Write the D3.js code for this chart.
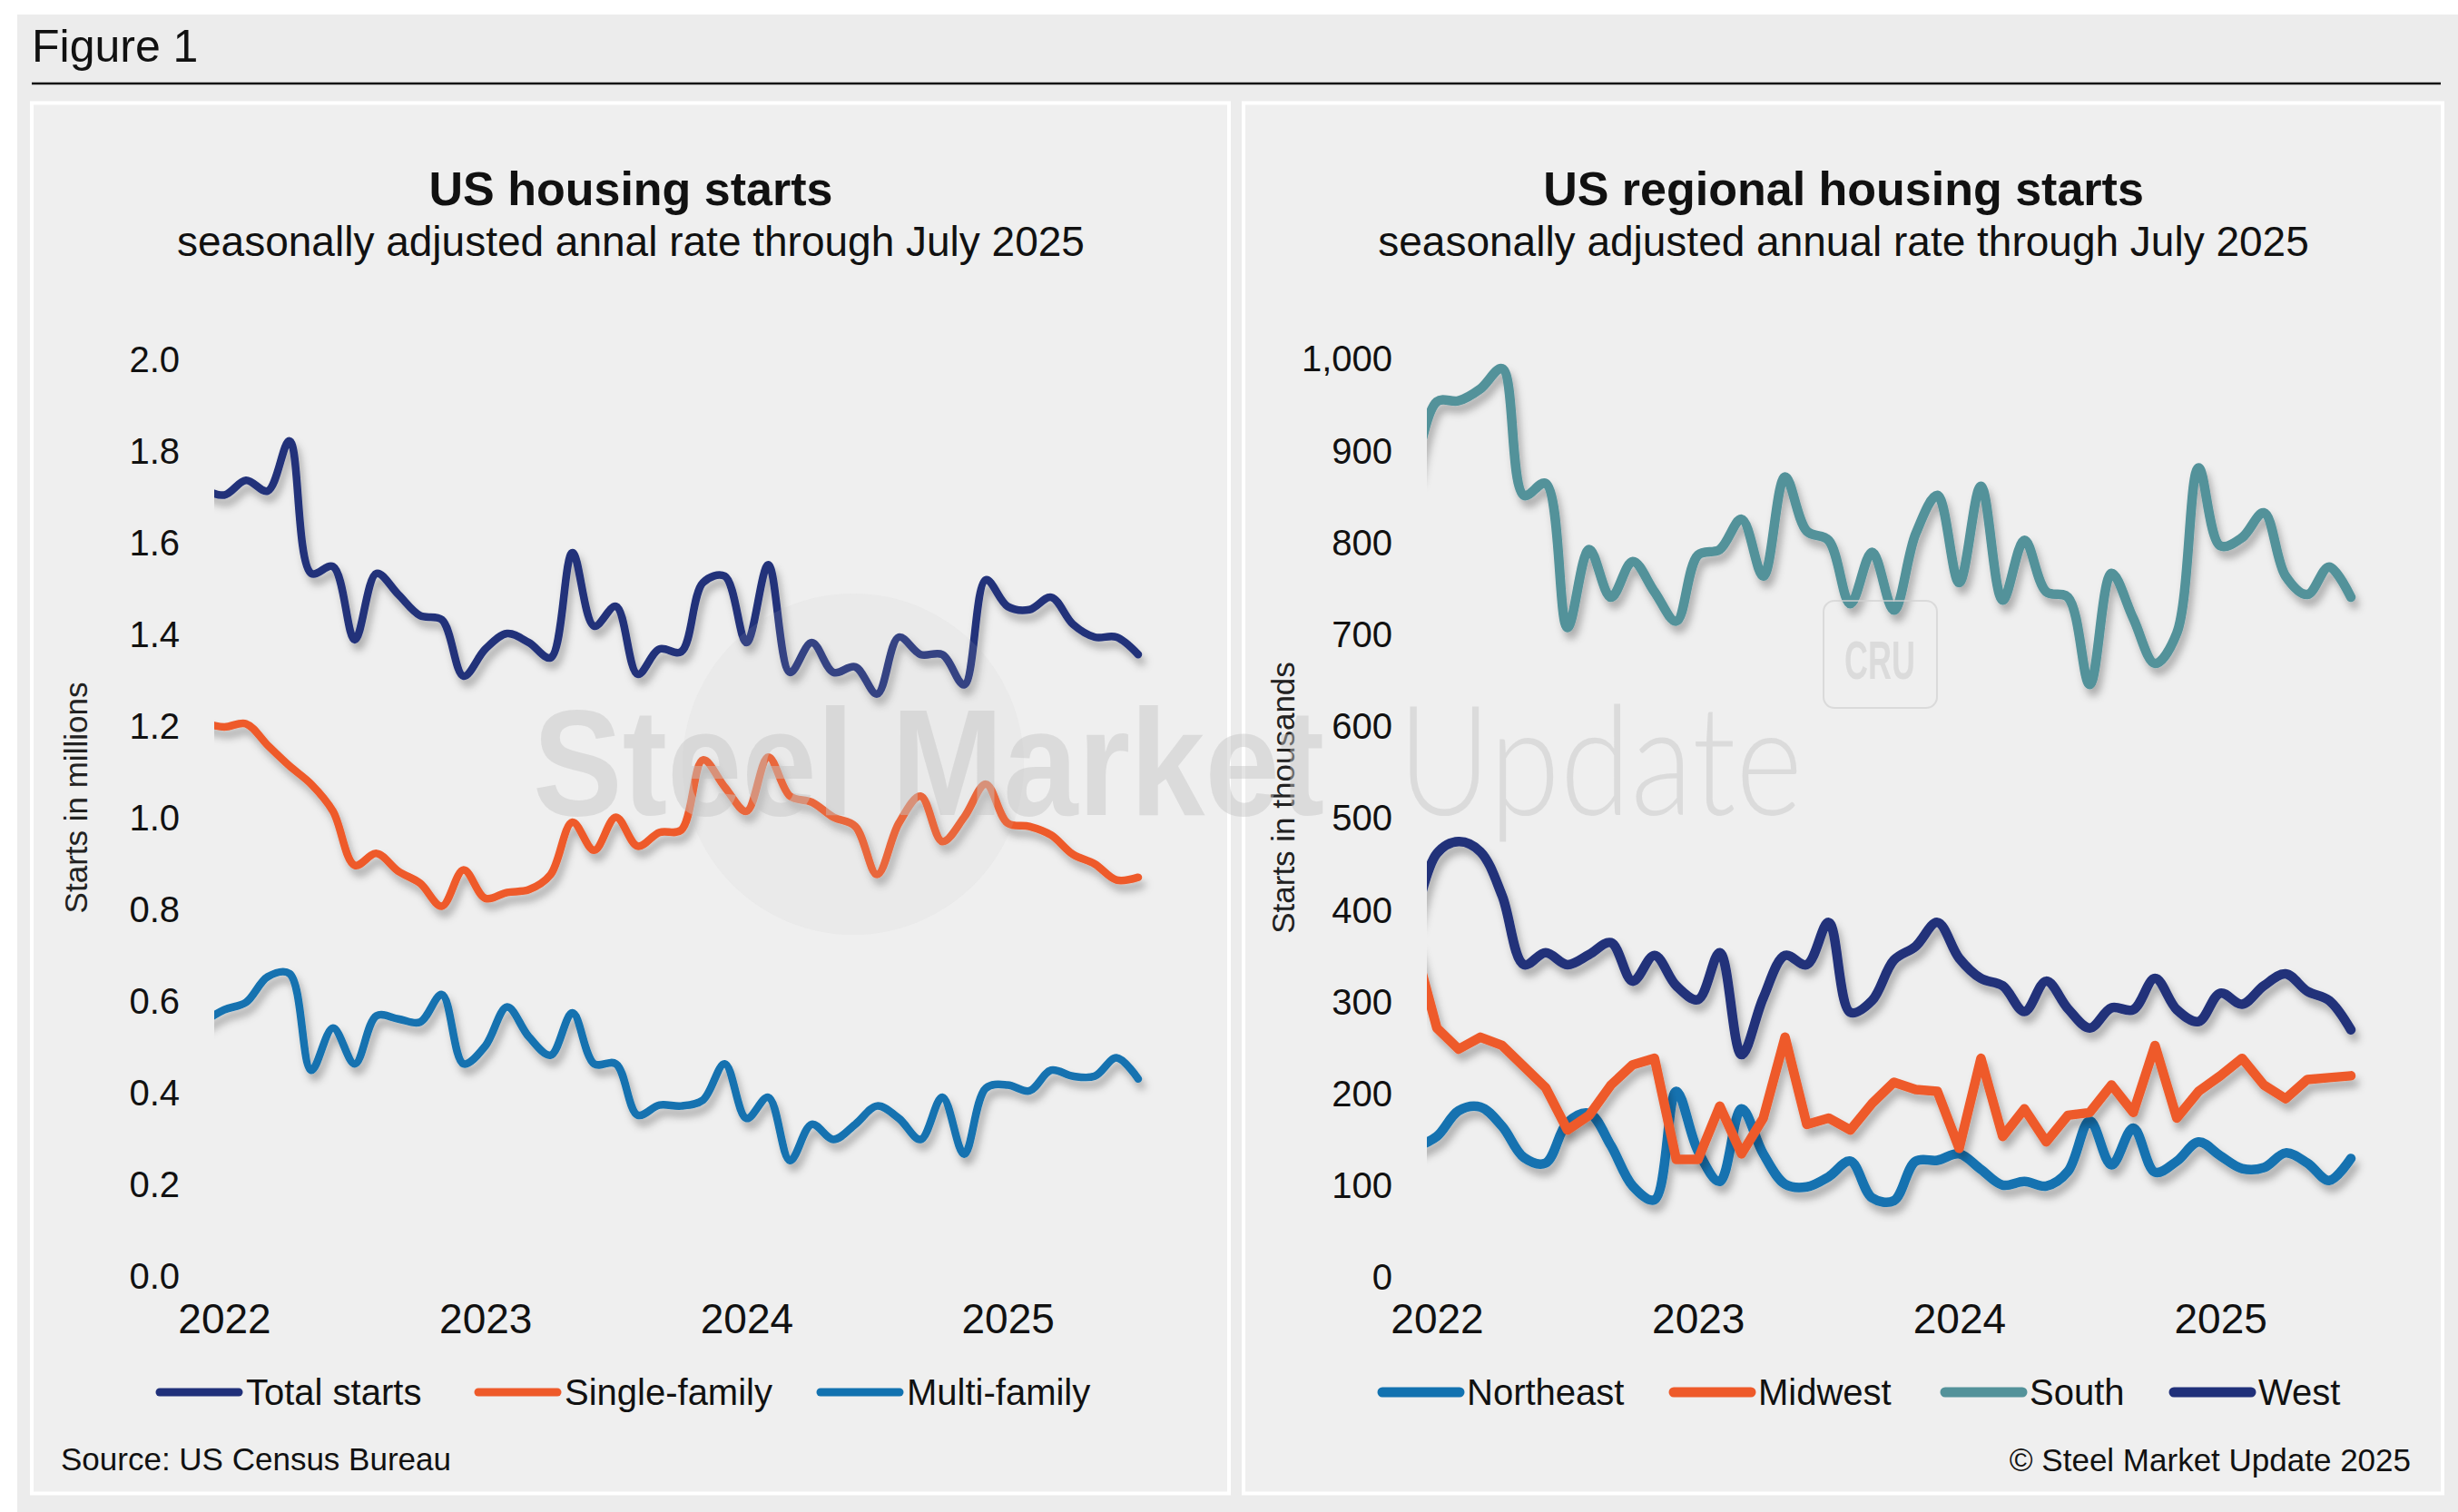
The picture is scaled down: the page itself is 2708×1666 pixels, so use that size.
<!DOCTYPE html>
<html>
<head>
<meta charset="utf-8">
<script src="https://cdn.jsdelivr.net/npm/d3@7"></script>
<style>
  body { margin: 0; background: #ffffff; }
  svg { display: block; }
  text { font-family: "Liberation Sans", Arial, Helvetica, sans-serif; }
</style>
</head>
<body>
<div id="chart"></div>
<script>
// --- data (Dec 2021 .. Jul 2025, first value sits just left of the plot edge) ---
const monthIndex = d3.range(-1, 43); // -1 = Dec 2021, 0 = Jan 2022 ... 42 = Jul 2025
const yearLabels = ["2022", "2023", "2024", "2025"];

// left chart, millions of units (SAAR)
const totalStarts = [1.72, 1.706, 1.738, 1.715, 1.824, 1.535, 1.55, 1.39, 1.535, 1.489, 1.443, 1.434,
  1.311, 1.37, 1.404, 1.384, 1.351, 1.58, 1.42, 1.463, 1.315, 1.37, 1.364, 1.515, 1.529, 1.384,
  1.554, 1.319, 1.384, 1.319, 1.331, 1.272, 1.396, 1.358, 1.358, 1.292, 1.521, 1.463, 1.456,
  1.483, 1.424, 1.396, 1.396, 1.358];
const singleFamily = [1.21, 1.2, 1.207, 1.16, 1.115, 1.075, 1.016, 0.898, 0.924, 0.885, 0.859, 0.809,
  0.888, 0.826, 0.839, 0.845, 0.878, 0.992, 0.931, 1.003, 0.94, 0.97, 0.975, 1.128, 1.069, 1.016,
  1.134, 1.049, 1.036, 1.003, 0.983, 0.878, 0.99, 1.049, 0.95, 1.003, 1.075, 0.99, 0.983, 0.964,
  0.922, 0.901, 0.866, 0.872];
const multiFamily = [0.555, 0.583, 0.599, 0.655, 0.662, 0.451, 0.543, 0.465, 0.57, 0.563, 0.556, 0.616,
  0.465, 0.504, 0.589, 0.524, 0.484, 0.576, 0.465, 0.465, 0.353, 0.375, 0.373, 0.386, 0.465, 0.346,
  0.392, 0.254, 0.333, 0.3, 0.333, 0.373, 0.346, 0.3, 0.392, 0.268, 0.412, 0.419, 0.406, 0.451,
  0.438, 0.438, 0.478, 0.432];
const leftTicks = [0, 0.2, 0.4, 0.6, 0.8, 1.0, 1.2, 1.4, 1.6, 1.8, 2.0];

// right chart, thousands of units (SAAR)
const northeast = [142, 154, 182, 186, 165, 131, 125, 169, 179, 144, 100, 85, 203, 138, 105, 184, 135,
  102, 99, 110, 127, 87, 84, 127, 128, 135, 118, 101, 105, 100, 116, 171, 123, 163, 115, 127, 148,
  133, 119, 120, 136, 125, 106, 130];
const midwest = [360, 272, 249, 262, 253, 230, 207, 161, 177, 210, 232, 239, 129, 129, 187, 135, 174,
  262, 167, 174, 161, 190, 213, 205, 203, 141, 239, 154, 184, 148, 177, 180, 210, 180, 253, 174, 203,
  220, 239, 210, 195, 216, 218, 220];
const south = [875, 954, 955, 968, 990, 852, 865, 708, 793, 741, 780, 747, 715, 787, 793, 826, 764,
  872, 813, 803, 734, 790, 727, 810, 852, 757, 862, 738, 803, 747, 741, 646, 767, 718, 669, 702, 882,
  797, 806, 833, 764, 744, 774, 741];
const west = [390, 462, 475, 464, 416, 341, 354, 341, 352, 365, 323, 351, 318, 303, 354, 243, 305, 351,
  341, 387, 289, 302, 346, 361, 387, 348, 326, 318, 290, 323, 293, 272, 294, 292, 326, 292, 279, 310,
  298, 318, 331, 312, 302, 270];
const rightTicks = [0, 100, 200, 300, 400, 500, 600, 700, 800, 900, 1000];

const NAVY = "#20307a", ORANGE = "#ee5a2a", BLUE = "#1272b0", TEAL = "#53929a";

// --- canvas ---
const W = 2708, H = 1666;
const svg = d3.select("#chart").append("svg").attr("width", W).attr("height", H);
const defs = svg.append("defs");

const shadow = defs.append("filter").attr("id", "shadow")
  .attr("x", "-5%").attr("y", "-10%").attr("width", "110%").attr("height", "130%");
shadow.append("feDropShadow")
  .attr("dx", 4).attr("dy", 8).attr("stdDeviation", 4)
  .attr("flood-color", "#000").attr("flood-opacity", 0.28);

svg.append("rect").attr("x", 19).attr("y", 16).attr("width", W - 19).attr("height", H - 16)
  .attr("fill", "#ececec");

svg.append("text").attr("x", 35).attr("y", 68).attr("font-size", 50).attr("fill", "#111")
  .text("Figure 1");
svg.append("line").attr("x1", 35).attr("x2", 2689).attr("y1", 92).attr("y2", 92)
  .attr("stroke", "#111").attr("stroke-width", 2.5);

// --- one panel ---
function drawPanel(cfg) {
  const g = svg.append("g");

  g.append("rect")
    .attr("x", cfg.box[0]).attr("y", cfg.box[1]).attr("width", cfg.box[2]).attr("height", cfg.box[3])
    .attr("fill", "#efefef").attr("stroke", "#ffffff").attr("stroke-width", 4);

  g.append("text").attr("x", cfg.cx).attr("y", 226).attr("text-anchor", "middle")
    .attr("font-size", 52).attr("font-weight", "bold").attr("fill", "#111").text(cfg.title);
  g.append("text").attr("x", cfg.cx).attr("y", 282).attr("text-anchor", "middle")
    .attr("font-size", 46).attr("fill", "#111").text(cfg.subtitle);

  // y axis (labels only)
  const yAxis = g.append("g").attr("transform", `translate(${cfg.tickX},0)`)
    .call(d3.axisLeft(cfg.y).tickValues(cfg.ticks).tickSize(0).tickPadding(0).tickFormat(cfg.format));
  yAxis.select(".domain").remove();
  yAxis.selectAll("text").attr("font-size", 40).attr("fill", "#111")
    .style("font-family", '"Liberation Sans", Arial, sans-serif');

  // x axis (year labels only)
  const xAxis = g.append("g").attr("transform", "translate(0,1436)")
    .call(d3.axisBottom(cfg.x).tickValues([0, 12, 24, 36]).tickSize(0).tickPadding(0)
      .tickFormat((d) => yearLabels[d / 12]));
  xAxis.select(".domain").remove();
  xAxis.selectAll("text").attr("font-size", 46).attr("fill", "#111")
    .style("font-family", '"Liberation Sans", Arial, sans-serif');

  g.append("text")
    .attr("transform", `translate(${cfg.axisTitleX},879) rotate(-90)`)
    .attr("text-anchor", "middle").attr("font-size", 35).attr("fill", "#222")
    .text(cfg.axisTitle);

  // clipped plot
  defs.append("clipPath").attr("id", cfg.id).append("rect")
    .attr("x", cfg.clip[0]).attr("y", 300).attr("width", cfg.clip[1] - cfg.clip[0]).attr("height", 1200);
  const plot = g.append("g").attr("clip-path", `url(#${cfg.id})`);

  cfg.series.forEach((s) => {
    const line = d3.line()
      .x((d, i) => cfg.x(monthIndex[i]))
      .y((d) => cfg.y(d))
      .curve(s.curve);
    plot.append("path")
      .datum(s.values)
      .attr("d", line)
      .attr("fill", "none")
      .attr("stroke", s.color)
      .attr("stroke-width", cfg.lineWidth)
      .attr("stroke-linejoin", "round")
      .attr("stroke-linecap", "round")
      .attr("filter", "url(#shadow)");
  });

  // legend
  cfg.series.forEach((s, i) => {
    const x0 = cfg.legendX[i];
    g.append("line")
      .attr("x1", x0 + 5).attr("x2", x0 + cfg.swatch - 5).attr("y1", 1534).attr("y2", 1534)
      .attr("stroke", s.color).attr("stroke-width", cfg.swatchWidth).attr("stroke-linecap", "round");
    g.append("text").attr("x", x0 + cfg.swatch + 3).attr("y", 1548)
      .attr("font-size", 40).attr("fill", "#111").text(s.name);
  });
}

drawPanel({
  id: "clipLeft",
  box: [35, 113.5, 1319, 1532],
  cx: 695,
  title: "US housing starts",
  subtitle: "seasonally adjusted annal rate through July 2025",
  x: d3.scaleLinear().domain([0, 42]).range([247, 1254]),
  y: d3.scaleLinear().domain([0, 2]).range([1407, 397]),
  ticks: leftTicks,
  format: d3.format(".1f"),
  tickX: 198,
  axisTitle: "Starts in millions",
  axisTitleX: 96,
  clip: [236, 1290],
  lineWidth: 8.5,
  swatch: 97,
  swatchWidth: 9,
  legendX: [171, 522, 899],
  series: [
    { name: "Total starts", values: totalStarts, color: NAVY, curve: d3.curveCatmullRom },
    { name: "Single-family", values: singleFamily, color: ORANGE, curve: d3.curveCatmullRom },
    { name: "Multi-family", values: multiFamily, color: BLUE, curve: d3.curveCatmullRom },
  ],
});

drawPanel({
  id: "clipRight",
  box: [1370, 113.5, 1321, 1532],
  cx: 2031,
  title: "US regional housing starts",
  subtitle: "seasonally adjusted annual rate through July 2025",
  x: d3.scaleLinear().domain([0, 42]).range([1583, 2590]),
  y: d3.scaleLinear().domain([0, 1000]).range([1408, 396]),
  ticks: rightTicks,
  format: d3.format(","),
  tickX: 1534,
  axisTitle: "Starts in thousands",
  axisTitleX: 1426,
  clip: [1572, 2630],
  lineWidth: 10.5,
  swatch: 95,
  swatchWidth: 11,
  legendX: [1518, 1839, 2138, 2390],
  series: [
    { name: "Northeast", values: northeast, color: BLUE, curve: d3.curveCatmullRom },
    { name: "Midwest", values: midwest, color: ORANGE, curve: d3.curveLinear },
    { name: "South", values: south, color: TEAL, curve: d3.curveCatmullRom },
    { name: "West", values: west, color: NAVY, curve: d3.curveCatmullRom },
  ],
});

// sources
svg.append("text").attr("x", 67).attr("y", 1620).attr("font-size", 35).attr("fill", "#111")
  .text("Source: US Census Bureau");
svg.append("text").attr("x", 2656).attr("y", 1621).attr("text-anchor", "end")
  .attr("font-size", 35).attr("fill", "#111").text("\u00A9 Steel Market Update 2025");

// --- faint watermark on top ---
const wm = svg.append("g").attr("pointer-events", "none");
wm.append("circle").attr("cx", 940).attr("cy", 842).attr("r", 188)
  .attr("fill", "#c8c8c8").attr("opacity", 0.12);
wm.append("text").attr("x", 587).attr("y", 898).attr("font-size", 167).attr("font-weight", "bold")
  .attr("textLength", 872).attr("lengthAdjust", "spacingAndGlyphs")
  .attr("fill", "#c4c4c4").attr("opacity", 0.45).text("Steel Market");
wm.append("text").attr("x", 1540).attr("y", 898).attr("font-size", 167).attr("font-weight", 300)
  .style("font-family", "Lato, 'Open Sans', sans-serif")
  .attr("textLength", 446).attr("lengthAdjust", "spacingAndGlyphs")
  .attr("fill", "#c4c4c4").attr("opacity", 0.45).text("Update");
wm.append("rect").attr("x", 2009).attr("y", 662).attr("width", 125).attr("height", 118).attr("rx", 12)
  .attr("fill", "none").attr("stroke", "#d2d2d2").attr("stroke-width", 2).attr("opacity", 0.7);
wm.append("text").attr("x", 2071).attr("y", 748).attr("text-anchor", "middle")
  .attr("font-size", 60).attr("font-weight", "bold")
  .attr("textLength", 78).attr("lengthAdjust", "spacingAndGlyphs")
  .attr("fill", "#cfcfcf").attr("opacity", 0.6).text("CRU");
</script>
</body>
</html>
